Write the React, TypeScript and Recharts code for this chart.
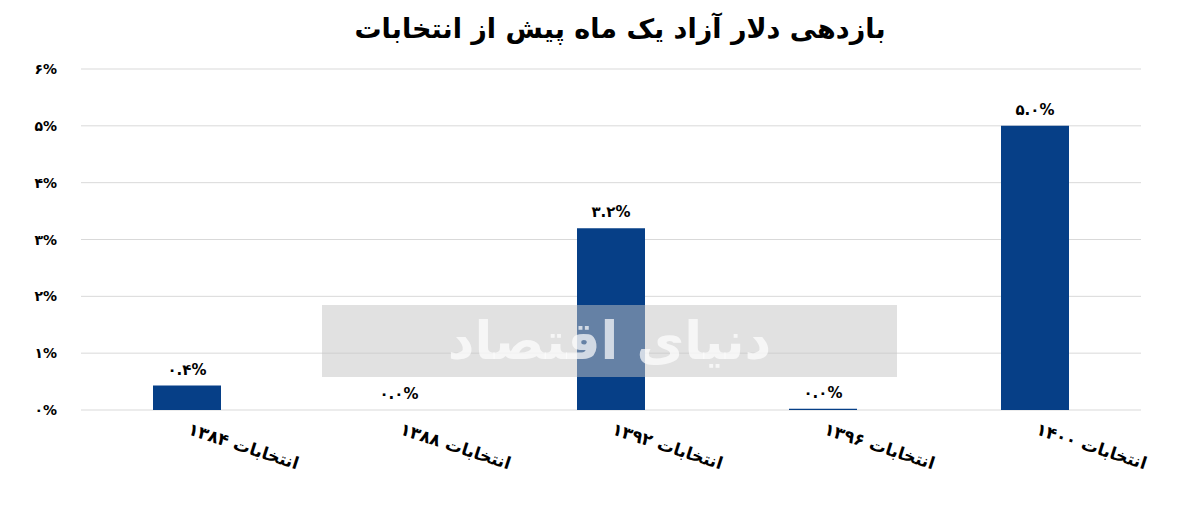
import React from "react";
import { BarChart, Bar, XAxis, YAxis, CartesianGrid, LabelList } from "recharts";

const categories = ["انتخابات ۱۳۸۴", "انتخابات ۱۳۸۸", "انتخابات ۱۳۹۲", "انتخابات ۱۳۹۶", "انتخابات ۱۴۰۰"];
const returns = [0.43, 0.001, 3.2, 0.02, 5.0];
const yTicks = [0, 1, 2, 3, 4, 5, 6];

const FONT = "'DejaVu Sans', 'Noto Sans', sans-serif";
const BAR_COLOR = "#063f87";

const faDigits = (s: string) => s.replace(/\d/g, (d) => "۰۱۲۳۴۵۶۷۸۹"[Number(d)]);

const data = categories.map((name, i) => ({ name, value: returns[i] }));

const XTick = ({ x, y, payload }: any) => (
  <text
    x={x}
    y={y + 16}
    transform={`rotate(18, ${x}, ${y + 16})`}
    textAnchor="start"
    fontFamily={FONT}
    fontWeight="bold"
    fontSize={17}
    fill="#000"
  >
    {payload.value}
  </text>
);

const YTick = ({ x, y, payload }: any) => (
  <text x={x} y={y} dy={5} textAnchor="end" fontFamily={FONT} fontWeight="bold" fontSize={14} fill="#000">
    {faDigits(String(payload.value)) + "%"}
  </text>
);

export default function App() {
  return (
    <div style={{ position: "absolute", left: 0, top: 0, width: 1200, height: 508, background: "#fff" }}>
      <div
        style={{
          position: "absolute",
          top: 13,
          left: 0,
          width: 1240,
          textAlign: "center",
          fontFamily: FONT,
          fontWeight: "bold",
          fontSize: 27,
          direction: "rtl",
        }}
      >
        بازدهی دلار آزاد یک ماه پیش از انتخابات
      </div>
      <BarChart
        width={1200}
        height={508}
        data={data}
        margin={{ top: 69, right: 59, bottom: 68, left: 0 }}
        style={{ position: "absolute", left: 0, top: 0 }}
      >
        <CartesianGrid vertical={false} stroke="#d9d9d9" />
        <XAxis dataKey="name" axisLine={false} tickLine={false} tick={<XTick />} interval={0} height={30} />
        <YAxis
          domain={[0, 6]}
          ticks={yTicks}
          axisLine={false}
          tickLine={false}
          tickSize={0}
          tickMargin={24}
          width={81}
          tick={<YTick />}
        />
        <Bar dataKey="value" fill={BAR_COLOR} barSize={68} isAnimationActive={false}>
          <LabelList
            dataKey="value"
            position="top"
            offset={11}
            fontFamily={FONT}
            fontSize={15}
            fontWeight={600}
            fill="#000"
            formatter={(v: any) => faDigits(Number(v).toFixed(1)) + "%"}
          />
        </Bar>
      </BarChart>
      <div
        style={{
          position: "absolute",
          left: 322,
          top: 305,
          width: 575,
          height: 72,
          background: "rgba(195,195,195,0.5)",
          color: "rgba(255,255,255,0.7)",
          fontFamily: FONT,
          fontWeight: "bold",
          fontSize: 52,
          textAlign: "center",
          lineHeight: "72px",
          direction: "rtl",
          overflow: "hidden",
        }}
      >
        دنیای اقتصاد
      </div>
    </div>
  );
}
